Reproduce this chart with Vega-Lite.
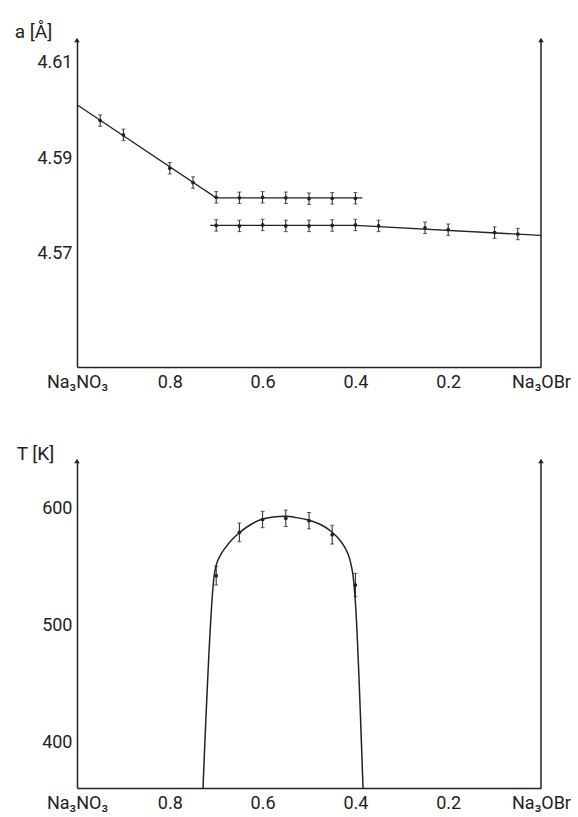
{
  "$schema": "https://vega.github.io/schema/vega-lite/v6.json",
  "padding": {"left": 14, "top": 22, "right": 0, "bottom": 5},
  "spacing": 53,
  "config": {
    "view": {"stroke": null},
    "font": "Roboto",
    "axis": {"grid": false, "ticks": false, "domainColor": "#222", "domainWidth": 1.5, "labelColor": "#222", "labelFontSize": 18, "titleColor": "#222", "titleFontSize": 19, "titleFontWeight": "normal", "labelFlush": false}
  },
  "datasets": {
    "topLines": [
      {"x": 1.0, "a": 4.6012, "branch": "upper"},
      {"x": 0.7, "a": 4.5817, "branch": "upper"},
      {"x": 0.385, "a": 4.5817, "branch": "upper"},
      {"x": 0.713, "a": 4.5759, "branch": "lower"},
      {"x": 0.4, "a": 4.5759, "branch": "lower"},
      {"x": 0.0, "a": 4.5738, "branch": "lower"}
    ],
    "topPoints": [
      {"x": 0.95, "a": 4.5979, "e": 0.0012},
      {"x": 0.90, "a": 4.5949, "e": 0.0012},
      {"x": 0.80, "a": 4.5879, "e": 0.0012},
      {"x": 0.75, "a": 4.5849, "e": 0.0012},
      {"x": 0.70, "a": 4.5818, "e": 0.0012},
      {"x": 0.65, "a": 4.5817, "e": 0.0012},
      {"x": 0.60, "a": 4.5818, "e": 0.0012},
      {"x": 0.55, "a": 4.5817, "e": 0.0012},
      {"x": 0.50, "a": 4.5815, "e": 0.0012},
      {"x": 0.45, "a": 4.5816, "e": 0.0012},
      {"x": 0.40, "a": 4.5816, "e": 0.0012},
      {"x": 0.70, "a": 4.5759, "e": 0.0012},
      {"x": 0.65, "a": 4.5758, "e": 0.0012},
      {"x": 0.60, "a": 4.5760, "e": 0.0012},
      {"x": 0.55, "a": 4.5758, "e": 0.0012},
      {"x": 0.50, "a": 4.5758, "e": 0.0012},
      {"x": 0.45, "a": 4.5759, "e": 0.0012},
      {"x": 0.40, "a": 4.5760, "e": 0.0012},
      {"x": 0.35, "a": 4.5758, "e": 0.0012},
      {"x": 0.25, "a": 4.5754, "e": 0.0012},
      {"x": 0.20, "a": 4.5750, "e": 0.0012},
      {"x": 0.10, "a": 4.5744, "e": 0.0012},
      {"x": 0.05, "a": 4.5741, "e": 0.0012}
    ],
    "bottomCurve": [
      {"x": 0.7284, "T": 361.5},
      {"x": 0.704, "T": 544.2},
      {"x": 0.7004, "T": 551.3},
      {"x": 0.6918, "T": 559.8},
      {"x": 0.6774, "T": 568.4},
      {"x": 0.6631, "T": 574.9},
      {"x": 0.6502, "T": 579.7},
      {"x": 0.6272, "T": 586.3},
      {"x": 0.6019, "T": 591.2},
      {"x": 0.5769, "T": 593.2},
      {"x": 0.551, "T": 593.7},
      {"x": 0.5265, "T": 592.6},
      {"x": 0.5015, "T": 590.6},
      {"x": 0.4763, "T": 586.9},
      {"x": 0.4532, "T": 581.2},
      {"x": 0.4368, "T": 574.9},
      {"x": 0.4224, "T": 566.9},
      {"x": 0.4131, "T": 558.4},
      {"x": 0.408, "T": 549.9},
      {"x": 0.4045, "T": 541.3},
      {"x": 0.4002, "T": 521.3},
      {"x": 0.3836, "T": 361.5}
    ],
    "bottomPoints": [
      {"x": 0.70, "T": 543, "e": 8},
      {"x": 0.65, "T": 580, "e": 8},
      {"x": 0.60, "T": 591, "e": 7},
      {"x": 0.55, "T": 592, "e": 7},
      {"x": 0.50, "T": 590, "e": 7},
      {"x": 0.45, "T": 578, "e": 8},
      {"x": 0.40, "T": 535, "e": 10}
    ],
    "ends": [{"x": 1}, {"x": 0}],
    "one": [{"x": 0}]
  },
  "vconcat": [
    {
      "width": 464,
      "height": 327,
      "layer": [
        {
          "data": {"name": "topLines"},
          "mark": {"type": "line", "color": "#222", "strokeWidth": 1.3},
          "encoding": {
            "x": {"field": "x", "type": "quantitative", "scale": {"domain": [0, 1], "reverse": true, "nice": false},
              "axis": {"values": [1, 0.8, 0.6, 0.4, 0.2, 0], "labelExpr": "datum.value == 1 ? 'Na₃NO₃' : datum.value == 0 ? 'Na₃OBr' : format(datum.value, '.1f')", "labelPadding": 6}, "title": null},
            "y": {"field": "a", "type": "quantitative", "title": "a [Å]", "scale": {"domain": [4.5462, 4.6148], "nice": false, "zero": false},
              "axis": {"values": [4.57, 4.59, 4.61], "format": ".2f", "labelPadding": 5, "titleAngle": 0, "titleX": -44, "titleY": -9, "titleAlign": "center", "titleBaseline": "middle"}},
            "detail": {"field": "branch"}
          }
        },
        {
          "data": {"name": "topPoints"},
          "mark": {"type": "errorbar", "ticks": {"size": 4}, "color": "#222", "thickness": 1},
          "encoding": {
            "x": {"field": "x", "type": "quantitative", "title": null},
            "y": {"field": "a", "type": "quantitative", "title": "a [Å]"},
            "yError": {"field": "e"}
          }
        },
        {
          "data": {"name": "topPoints"},
          "mark": {"type": "point", "filled": true, "color": "#222", "size": 14, "opacity": 1},
          "encoding": {
            "x": {"field": "x", "type": "quantitative", "title": null},
            "y": {"field": "a", "type": "quantitative", "title": "a [Å]"}
          }
        },
        {
          "data": {"name": "one"},
          "mark": {"type": "rule", "color": "#222", "strokeWidth": 1.5},
          "encoding": {"x": {"field": "x", "type": "quantitative", "title": null}, "y": {"datum": 4.5462, "title": "a [Å]"}, "y2": {"datum": 4.6148}}
        },
        {
          "data": {"name": "ends"},
          "mark": {"type": "point", "shape": "triangle-up", "filled": true, "color": "#222", "size": 30, "opacity": 1},
          "encoding": {"x": {"field": "x", "type": "quantitative", "title": null}, "y": {"datum": 4.6148, "title": "a [Å]"}}
        }
      ]
    },
    {
      "width": 464,
      "height": 327,
      "layer": [
        {
          "data": {"name": "bottomCurve"},
          "mark": {"type": "line", "color": "#222", "strokeWidth": 1.5, "interpolate": "monotone"},
          "encoding": {
            "x": {"field": "x", "type": "quantitative", "title": null, "scale": {"domain": [0, 1], "reverse": true, "nice": false},
              "axis": {"values": [1, 0.8, 0.6, 0.4, 0.2, 0], "labelExpr": "datum.value == 1 ? 'Na₃NO₃' : datum.value == 0 ? 'Na₃OBr' : format(datum.value, '.1f')", "labelPadding": 6}},
            "y": {"field": "T", "type": "quantitative", "title": "T [K]", "scale": {"domain": [361.5, 641], "nice": false, "zero": false},
              "axis": {"values": [400, 500, 600], "labelPadding": 5, "titleAngle": 0, "titleX": -42, "titleY": -8, "titleAlign": "center", "titleBaseline": "middle"}}
          }
        },
        {
          "data": {"name": "bottomPoints"},
          "mark": {"type": "errorbar", "ticks": {"size": 4}, "color": "#222", "thickness": 1},
          "encoding": {
            "x": {"field": "x", "type": "quantitative", "title": null},
            "y": {"field": "T", "type": "quantitative", "title": "T [K]"},
            "yError": {"field": "e"}
          }
        },
        {
          "data": {"name": "bottomPoints"},
          "mark": {"type": "point", "filled": true, "color": "#222", "size": 14, "opacity": 1},
          "encoding": {
            "x": {"field": "x", "type": "quantitative", "title": null},
            "y": {"field": "T", "type": "quantitative", "title": "T [K]"}
          }
        },
        {
          "data": {"name": "one"},
          "mark": {"type": "rule", "color": "#222", "strokeWidth": 1.5},
          "encoding": {"x": {"field": "x", "type": "quantitative", "title": null}, "y": {"datum": 361.5, "title": "T [K]"}, "y2": {"datum": 641}}
        },
        {
          "data": {"name": "ends"},
          "mark": {"type": "point", "shape": "triangle-up", "filled": true, "color": "#222", "size": 30, "opacity": 1},
          "encoding": {"x": {"field": "x", "type": "quantitative", "title": null}, "y": {"datum": 641, "title": "T [K]"}}
        }
      ]
    }
  ]
}
